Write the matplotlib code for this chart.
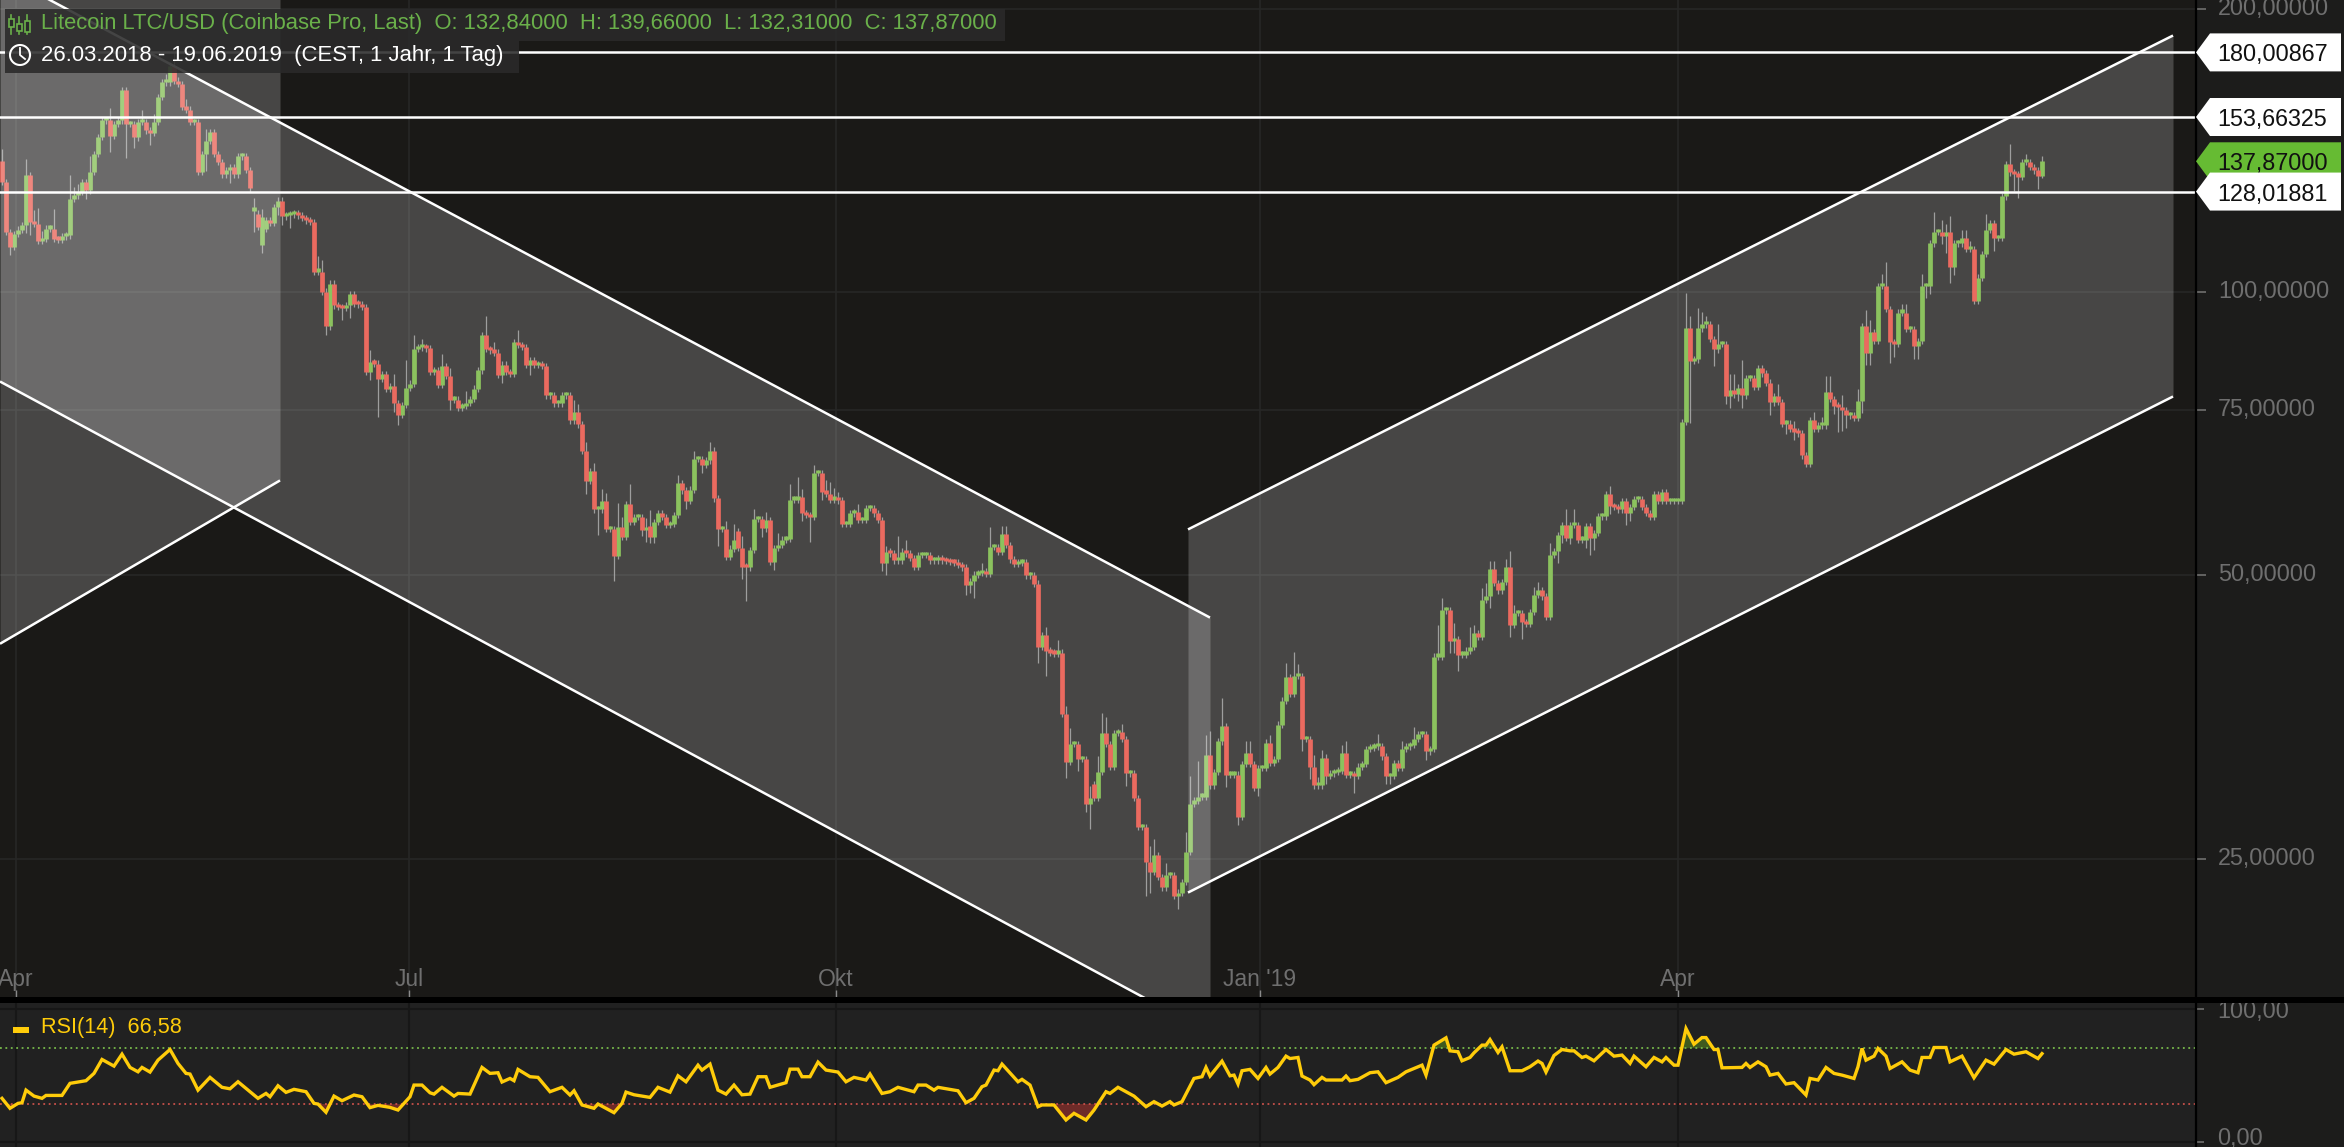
import numpy as np
import matplotlib
matplotlib.use("Agg")
import matplotlib.pyplot as plt
from matplotlib.patches import Polygon, Rectangle
from matplotlib.lines import Line2D
from matplotlib.ticker import NullLocator
from matplotlib.transforms import ScaledTranslation

plt.rcParams['font.family'] = ['Liberation Sans', 'DejaVu Sans']

# ---------- data ----------
closes = [
131,115.9,111.8,115.4,116.6,117.9,133.2,118.8,118.2,113.4,
114,116.9,116.9,114,113.8,114.7,115,125.8,126.8,127.9,
131,128.4,134.3,140.4,146.4,152.4,152.4,146.8,151.1,152.4,
164.2,151.1,151.1,146.2,151.8,151.8,148.7,147.8,151.8,161.3,
167.3,167.3,174.3,168,166.7,157.5,156.5,151.8,151.8,134.3,
140.4,145,148.1,140.4,137.6,133.5,134.8,135.9,133.5,139.5,
139.5,135,129,122.2,117.4,120.3,119.3,118.5,123.2,125.2,
120.5,120.8,121.1,121.3,120.8,120,119.3,118.8,105.2,105.2,
100.2,92,102.2,96.9,96.5,96.3,96.9,99.5,97.3,97.1,
96.5,82.3,84.3,84,80.9,81.9,78.9,79.5,76.2,74.1,
75.9,79.2,80,87.1,87.4,87.4,87.2,82.3,82.6,79.8,
83.5,81.5,76.9,76.9,75.4,75.7,76.3,77,79,82.6,
90,87.1,86.8,86.3,81.7,83.8,82.3,81.9,88.6,87.9,
87.5,83.8,84.8,83.7,83.8,83.5,77.7,77.7,76.2,76.2,
77.7,77.7,73.1,74.6,72.4,67.9,63,64.5,58.8,58.8,
60,56,56,52.5,56.3,55,59.6,57,57.7,57.7,
55.9,55.9,54.9,57,58.2,57.7,56.6,56.7,58,62.7,
61.6,60,61.7,66.5,66.5,65.6,66.3,67.9,60.4,56,
56,52.3,53.4,54.6,53.5,51.1,51,53.2,57.4,57.4,
56.1,57.3,51.7,53.5,53.9,54.6,54.7,60.2,60.2,60.6,
58.3,58,57.7,64.3,64.3,61.4,61.1,60.2,60.2,60.1,
56.7,56.7,58.2,58.4,57.3,57.3,59,59,58.2,57.3,
51.6,53,52.8,51.9,51.9,53,52.8,52.2,51.1,52.6,
52.6,52.6,51.9,51.9,52.1,51.9,51.8,51.7,51.6,51.3,
51,48.9,49.3,50.1,50.3,50.5,50.2,53.6,53.6,53,
55.4,53.9,52,51.4,51.6,51.7,50,50,49,42,
43.2,41.6,41.4,41.3,41.4,35.6,31.7,33.1,33.1,31.9,
31.9,28.6,29,29,30.9,34,33.1,31.3,34,34.1,
33.5,30.8,30.8,29,27,27,24.8,24.2,25.2,23.9,
23.3,24,24,22.8,23,23.6,25.4,28.6,28.8,29.1,
29.1,32.2,29.9,30.9,33.3,34.6,30.7,30.7,30.7,27.7,
31.5,32.4,31.5,29.7,31.2,31.2,33.2,31.6,31.9,34.7,
36.8,39,37.4,39.1,39.1,33.5,33.5,31.3,29.9,29.9,
32,30.6,30.8,30.9,31,32.4,30.7,30.7,30.6,31.3,
31.5,32.7,32.8,32.9,32.9,32.1,30.6,30.6,31.6,31.2,
32.7,32.9,33,33.5,33.9,33.9,32.5,32.7,41,41,
45.9,45.9,42.6,42.8,41.2,41.2,41.6,42,43.4,43,
47.1,47.6,50.8,49.1,48.2,49.2,51,44.3,45.6,45.6,
44.6,44.4,45.7,47.7,48.2,47.5,45.2,52.6,53.1,55.2,
56.6,54.8,56.6,56.6,54.6,54.6,56.4,54.8,55.5,57.8,
57.8,61,59.3,59.1,58.8,60,58.3,59.1,60.3,60.3,
59.1,58.3,57.7,61,60,61.3,60,60,60,60,
72.8,91.6,84.5,84.9,91.6,92.5,92.5,89.2,87,88.1,
88.1,77.6,78.7,77.9,79.2,77.7,81.1,81.1,79.4,83.1,
82,80.2,76.4,77.6,76.5,72.5,72.5,71.6,71.1,70.8,
67.1,65.7,73.1,71.6,72.2,72.2,78.3,77,75.8,75.5,
75,74,74,73.5,76.7,92.1,86.3,90.7,88.8,101.6,
101.6,96,88.5,88.1,95.2,95.2,91.4,91.4,87.6,88.8,
101.6,101.6,112.8,116,116,114.8,116,106.5,112.8,112.8,
114.2,111.2,111.2,97.9,103.7,109.9,116.5,118.4,114.2,114.2,
126.5,137,134.2,133.5,132.8,137.6,137.6,135.9,134.8,132.84,137.87]

first_open = 138.0
open_gaps = {63: 122.2, 64: 121.3, 65: 112.4, 66: 116.9, 162: 56.4, 184: 55.7, 273: 30.0, 510: 132.84}

# upper and lower wick length, percent of price, where visibly longer than usual
usual_wick = 0.8
upper_wicks = {0:3,6:4,8:3,9:4,10:2,13:5,17:6,18:2,19:2,22:4,27:3,35:3,38:2,41:2,43:3,46:2,51:3,63:3,65:2,79:4,80:3,
92:3,98:3,101:7,103:3.5,105:2,110:3,112:2,116:3,121:5,123:2,129:3,143:3,144:2,146:2,148:2,150:3,151:2,154:6,155:2.5,
157:5,161:3,162:4,169:2,173:2,177:2,181:2,183:4,185:3,188:2.5,191:2,194:3,197:4,199:5,200:2,203:2,206:3,207:3,208:3,
209:2,214:2,221:1.5,224:6,226:3,245:2,247:5,250:2,251:2,261:2,264:3,266:2,267:4,272:3,274:4,275:5,276:4,280:2,287:4,
288:4,291:3,296:5,297:7,299:9,301:5,302:6,305:7,311:3,312:3,317:2,321:3.5,323:6,324:3,328:3,329:2,330:2,335:2,336:3,
344:3,350:2,353:3,359:8,360:3,363:4,367:5,368:2,370:3,371:3,372:2,373:2,376:2,377:4,378:2,383:2,384:2,387:3,391:4,
393:4,402:2,421:9,422:3,424:5,425:3,426:2,429:5,432:4,433:4,435:7,444:3,448:2,453:2,455:2,456:4,457:4,460:3,464:3,
466:4,467:3,470:3,471:6,475:2,476:2,480:3,483:5,485:3,486:2,487:4,490:2,491:2,492:2,496:4,502:5,506:2,510:1.3}
lower_wicks = {2:2,6:2,7:3,21:2,27:4,31:8,33:2.5,37:3,51:4,57:3,63:5,65:2,69:2,70:2,72:3,81:2,85:3,87:3,92:2,94:9,98:2,
99:2.5,112:2.5,125:2,132:2.5,146:3,149:6,153:6,160:1.5,161:3,162:1.5,163:1.5,171:2,175:2,179:4,185:3,186:8,190:2,193:2,
200:2,202:6,205:2,220:2,221:3,241:2.5,242:2,243:4,259:4,261:6,266:4,269:3,271:2,272:6,281:3,286:8,287:5,294:3,306:3,
309:2,314:2,325:3,327:3,331:2,338:4,346:2,347:2,356:2,362:3,363:3,364:4,372:3,377:3,380:4,389:3,390:2,392:1.5,396:2,
397:4,398:3,402:2,406:3,407:2,422:14,428:4,431:2,432:3,434:1.5,435:3,442:3,446:2.5,448:2,458:2,459:6,460:5,461:3,
465:3,466:3,467:3,472:5,473:3,478:3,479:3,481:3,482:2,485:2,486:4,487:4,488:2,498:3,503:4,504:5,509:3,510:0.4}

rsi_bars = [0,2,4,5,6,8,10,11,15,17,21,23,25,28,30,32,34,35,37,39,42,44,46,47,49,52,55,57,59,64,66,67,69,71,73,76,78,79,81,83,85,88,90,92,94,97,99,
102,103,105,107,108,110,113,114,117,120,122,124,125,127,128,129,132,134,137,140,142,143,145,148,149,153,155,156,158,162,164,167,169,171,174,175,177,179,181,183,185,187,189,191,192,196,197,199,
200,202,204,206,209,211,213,216,217,220,222,224,228,229,231,233,234,239,241,243,245,246,248,249,250,254,255,257,259,260,263,266,268,271,273,276,277,279,283,286,288,290,292,293,295,298,300,
301,302,305,307,308,309,310,312,314,316,317,319,321,322,324,325,327,328,330,331,335,336,337,339,342,344,346,349,351,355,356,358,361,362,364,365,367,368,370,371,372,374,375,377,380,382,384,385,386,388,
390,392,393,395,396,398,401,403,405,407,408,411,413,415,416,418,419,421,423,425,426,428,429,430,435,436,437,439,441,442,444,446,448,451,452,454,456,458,460,463,464,465,466,468,469,471,472,475,477,479,480,482,483,486,487,490,493,496,498,501,503,506,509,510]
rsi_values = [32.9,25.4,29.1,29.6,39.1,34.6,32.9,35.1,35.1,44.2,46.2,51.7,62.2,57.2,66.2,56.2,52.9,56.2,52.7,61.7,69.7,59.2,51.7,51.2,39.1,48.7,41.2,40.1,45.4,32.9,36.6,34.1,42.4,37.4,39.7,37.9,29.1,28.6,22.4,34.6,31.1,35.4,34.1,25.9,27.6,26.1,24.1,
34.1,42.9,42.9,37.1,36.1,41.2,34.6,36.6,36.1,56.2,51.7,52.2,45.2,47.9,46.2,54.7,49.2,48.7,37.9,41.2,35.4,38.6,27.9,25.4,28.6,22.1,29.1,37.6,35.6,33.6,41.2,37.6,49.9,45.4,57.9,54.2,58.7,39.1,36.1,42.9,35.6,36.1,49.2,49.2,41.2,44.7,54.9,54.9,
49.2,49.2,60.2,54.2,52.7,45.4,48.7,46.7,51.2,36.6,37.9,41.2,37.9,42.9,42.9,39.1,41.2,38.6,29.6,32.9,41.7,42.9,54.2,53.7,58.7,45.4,47.2,42.9,26.6,27.9,27.9,16.6,21.6,16.6,24.1,37.9,36.6,41.2,34.6,26.6,30.4,27.1,30.4,27.9,30.4,47.9,49.2,
56.2,49.7,60.9,49.9,50.4,43.7,53.7,54.7,47.9,56.2,51.2,56.2,64.7,62.9,63.7,49.7,46.7,43.2,48.7,46.7,46.7,49.7,46.2,47.2,52.2,52.9,44.7,48.7,52.9,57.9,50.4,73,78.5,68.7,68,61.2,63.7,67.2,73,73,77.2,67.5,71.7,53.7,53.7,56.7,61,59.2,52.7,65.2,
69.7,68.7,68.7,63.7,64.7,61.2,69.7,64.7,65.5,59.2,64.7,56.7,63.7,60.4,63.7,57.9,57.9,85.5,73.7,78.7,78.7,69.7,69.7,55.9,56.2,59.2,56.2,60.4,56.7,50.4,51.7,43.7,44.7,35.4,47.9,46.7,56.2,51.7,50.4,47.9,56.7,70.5,61.7,64.7,70.5,64.7,55.4,60.4,54.2,52.2,63.7,63.7,71.2,71.2,60.4,64.7,48.4,61.7,58.7,69.7,66.2,68,62.9,66.58]

overbought = 70.7
oversold = 28.6

price_ticks = [200, 100, 75, 50, 25]
price_tick_labels = ['200,00000', '100,00000', '75,00000', '50,00000', '25,00000']
rsi_ticks = [100, 0]
rsi_tick_labels = ['100,00', '0,00']
month_bars = [3.5, 101.75, 208.5, 314.5, 419]
month_labels = ['Apr', 'Jul', 'Okt', "Jan '19", 'Apr']

levels = [180.00867, 153.66325, 128.01881]
level_labels = ['180,00867', '153,66325', '128,01881']
last_price = 137.87
last_label = '137,87000'

# trend channels: bar at both ends, and the price of each edge at those bars
chan_old_bars = [-0.5, 69.5]
chan_old_upper = [300, 300]
chan_old_lower = [42.3, 63.1]
chan_down_bars = [-0.5, 302]
chan_down_upper = [218.4, 45.1]
chan_down_lower = [80.4, 16.3]
chan_up_bars = [296.5, 542.75]
chan_up_upper = [55.97, 187.6]
chan_up_lower = [23.0, 77.5]

# ---------- figure ----------
W, H = 2344, 1147
fig = plt.figure(figsize=(W / 100, H / 100), dpi=100, facecolor='#1c1c1b')

def fx(px): return px / W
def fy(py): return 1 - py / H

MAIN_BOTTOM = 997
RSI_TOP = 1003
AXIS_X = 2196
ax = fig.add_axes([0, fy(MAIN_BOTTOM), fx(AXIS_X), MAIN_BOTTOM / H], facecolor='#1a1917')
ar = fig.add_axes([0, 0, fx(AXIS_X), (H - RSI_TOP) / H], facecolor='#212121')

GREY = '#6f6f6f'
GRID = '#272726'
GREEN = '#6fb437'
RED = '#e64538'
WICK = '#868686'

c = np.array(closes, float)
n = len(c)
bars = np.arange(n)
o = np.r_[first_open, c[:-1]]
for k, v in open_gaps.items():
    o[k] = v
top = np.maximum(o, c)
bot = np.minimum(o, c)
up_pct = np.array([upper_wicks.get(i, usual_wick) for i in range(n)])
dn_pct = np.array([lower_wicks.get(i, usual_wick) for i in range(n)])
highs = top * (1 + up_pct / 100)
lows = bot * (1 - dn_pct / 100)

ax.set_yscale('log')
ax.set_xlim(-0.5, 548.5)
ax.set_ylim(17.81, 204.65)

ax.vlines(bars, lows, highs, color=WICK, lw=0.9, zorder=2)
body_top = np.maximum(top, bot * 1.008)
up = c >= o
ax.vlines(bars[up], bot[up], body_top[up], color=GREEN, lw=3.4, zorder=3, capstyle='butt')
ax.vlines(bars[~up], bot[~up], body_top[~up], color=RED, lw=3.4, zorder=3, capstyle='butt')

# channels lie over the candles
for xs, u, l, draw_upper in [(chan_old_bars, chan_old_upper, chan_old_lower, False),
                             (chan_down_bars, chan_down_upper, chan_down_lower, True),
                             (chan_up_bars, chan_up_upper, chan_up_lower, True)]:
    ax.fill_between(xs, l, u, color='white', alpha=0.2, lw=0, zorder=4)
    ax.plot(xs, l, color='white', lw=1.8, zorder=5, solid_capstyle='butt')
    if draw_upper:
        ax.plot(xs, u, color='white', lw=1.8, zorder=5, solid_capstyle='butt')

for lv in levels:
    ax.axhline(lv, color='white', lw=1.8, zorder=5)

ax.yaxis.tick_right()
ax.yaxis.set_minor_locator(NullLocator())
ax.set_yticks(price_ticks, price_tick_labels)
ax.tick_params(axis='y', which='major', direction='out', length=7, width=1.2, color=GREY,
               labelcolor=GREY, labelsize=16.8, pad=9)
ax.set_xticks(month_bars, month_labels)
ax.tick_params(axis='x', direction='in', length=5, width=1, color='#8a8a8a',
               labelcolor=GREY, labelsize=16.5, pad=-21)
ax.grid(True, axis='both', color=GRID, lw=1.2, zorder=0)
ax.set_axisbelow(True)
for s in ax.spines.values():
    s.set_visible(False)
for lab in ax.get_yticklabels():
    lab.set_transform(lab.get_transform() + ScaledTranslation(0, 0.03, fig.dpi_scale_trans))

# RSI pane
ar.set_xlim(-0.5, 548.5)
ar.set_ylim(-3.77, 104.75)
rx = np.array(rsi_bars, float)
ry = np.array(rsi_values, float)
ar.fill_between(rx, ry, overbought, where=ry > overbought, interpolate=True, color='#3f5a1e', lw=0, zorder=2)
ar.fill_between(rx, ry, oversold, where=ry < oversold, interpolate=True, color='#6e2b28', lw=0, zorder=2)
ar.axhline(overbought, color='#77b94a', lw=1.3, ls=(0, (1, 2)), zorder=3)
ar.axhline(oversold, color='#c8504a', lw=1.3, ls=(0, (1, 2)), zorder=3)
ar.plot(rx, ry, color='#ffcc0a', lw=2.4, zorder=4, solid_joinstyle='miter')
ar.yaxis.tick_right()
ar.set_yticks(rsi_ticks, rsi_tick_labels)
ar.tick_params(axis='y', direction='out', length=6, width=1.2, color=GREY, labelcolor=GREY,
               labelsize=16.8, pad=9)
ar.set_xticks(month_bars, [''] * len(month_bars))
ar.tick_params(axis='x', length=0)
ar.grid(True, axis='both', color='#171717', lw=1.5, zorder=0)
ar.set_axisbelow(True)
for s in ar.spines.values():
    s.set_visible(False)
ar.get_yticklabels()[1].set_transform(ar.get_yticklabels()[1].get_transform()
                                      + ScaledTranslation(0, 0.06, fig.dpi_scale_trans))

# separator and axis line
fig.add_artist(Rectangle((0, fy(RSI_TOP)), 1, (RSI_TOP - MAIN_BOTTOM) / H, transform=fig.transFigure,
                         color='black', lw=0, zorder=20))
fig.add_artist(Line2D([fx(AXIS_X), fx(AXIS_X)], [0, 1], transform=fig.transFigure, color='black', lw=1.6, zorder=20))

# price tags on the axis
def tag(price, label, face, half=19, z=21):
    py = H - ax.transData.transform((0, price))[1]
    right = 2341
    shoulder = 2210
    tip = 2196
    pts = [(tip, py), (shoulder, py - half), (right, py - half), (right, py + half), (shoulder, py + half)]
    fig.add_artist(Polygon([(fx(a), fy(b)) for a, b in pts], closed=True, transform=fig.transFigure,
                           facecolor=face, edgecolor='none', zorder=z))
    fig.text(fx(2217), fy(py), label, color='#111111', fontsize=16.8, ha='left', va='center_baseline', zorder=z + 1)

tag(last_price, last_label, '#66bb33', z=21)
tag(levels[0], level_labels[0], 'white', z=23)
tag(levels[1], level_labels[1], 'white', z=23)
tag(levels[2], level_labels[2], 'white', z=23)

# header boxes
for x0, x1, y0, y1 in [(5, 1005, 9, 41), (5, 519, 41, 73)]:
    fig.add_artist(Rectangle((fx(x0), fy(y1)), fx(x1 - x0), (y1 - y0) / H, transform=fig.transFigure,
                             facecolor='#2a2a2a', alpha=0.88, lw=0, zorder=25))
HG = '#6ab04a'
fig.text(fx(41), fy(24), 'Litecoin LTC/USD (Coinbase Pro, Last)  O: 132,84000  H: 139,66000  L: 132,31000  C: 137,87000',
         color=HG, fontsize=15.8, ha='left', va='center', zorder=26)
fig.text(fx(41), fy(55), '26.03.2018 - 19.06.2019  (CEST, 1 Jahr, 1 Tag)',
         color='white', fontsize=15.9, ha='left', va='center', zorder=26)
# candle glyph
for gx, a, b, bo, bt in [(11, 15, 34, 19, 27), (19, 17, 34, 24, 31), (27, 15, 34, 21, 32)]:
    fig.add_artist(Line2D([fx(gx), fx(gx)], [fy(b), fy(a)], transform=fig.transFigure, color=HG, lw=1.2, zorder=26))
    fig.add_artist(Rectangle((fx(gx - 2.5), fy(bt)), fx(5), (bt - bo) / H, transform=fig.transFigure,
                             facecolor='#2a2a2a', edgecolor=HG, lw=1.2, zorder=27))
# clock glyph
cx, cy, r = 20, 55, 10
theta = np.linspace(0, 2 * np.pi, 60)
fig.add_artist(Line2D(fx(cx + r * np.cos(theta)), fy(cy + r * np.sin(theta)), transform=fig.transFigure,
                      color='white', lw=1.5, zorder=26))
fig.add_artist(Line2D([fx(cx), fx(cx), fx(cx + 5)], [fy(cy - 7), fy(cy), fy(cy + 4)], transform=fig.transFigure,
                      color='white', lw=1.3, zorder=26))

# RSI legend
fig.add_artist(Rectangle((fx(13), fy(1033)), fx(16), 6 / H, transform=fig.transFigure, color='#ffcc0a', lw=0, zorder=26))
fig.text(fx(41), fy(1028), 'RSI(14)  66,58', color='#ffcc0a', fontsize=15.6, ha='left', va='center', zorder=26)

fig.savefig('out.png', dpi=100, facecolor=fig.get_facecolor())
